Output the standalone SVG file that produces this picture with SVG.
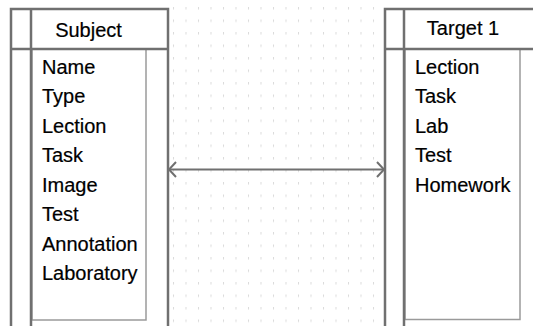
<svg xmlns="http://www.w3.org/2000/svg" width="533" height="326" viewBox="0 0 533 326">
<defs>
<style>
.outer{fill:#fff;stroke:#707070;stroke-width:2.5}
.sep{stroke:#707070;stroke-width:2.5;fill:none}
.list{fill:#fff;stroke:#9a9a9a;stroke-width:1.5}
.t{font-family:"Liberation Sans",Arial,sans-serif;font-size:20px;fill:#000;stroke:#000;stroke-width:0.2}
.hd{text-anchor:middle}
.conn{stroke:#707070;stroke-width:2;fill:none}
</style>
<pattern id="grid" patternUnits="userSpaceOnUse" x="173" y="7" width="12.5" height="12.5">
<rect x="0" y="0" width="1" height="2.5" fill="#dadada"/>
</pattern>
</defs>
<rect x="0" y="0" width="533" height="326" fill="#fff"/>
<rect x="170" y="0" width="212" height="326" fill="url(#grid)"/>
<g id="subject">
<rect class="outer" x="11" y="9" width="157" height="340"/>
<rect class="list" x="32" y="49" width="114" height="271"/>
<line class="sep" x1="31" y1="9" x2="31" y2="340"/>
<line class="sep" x1="11" y1="49" x2="168" y2="49"/>
<text class="t hd" x="88.5" y="37">Subject</text>
<text class="t" x="42" y="73.5">Name</text>
<text class="t" x="42" y="103">Type</text>
<text class="t" x="42" y="132.5">Lection</text>
<text class="t" x="42" y="162">Task</text>
<text class="t" x="42" y="191.5">Image</text>
<text class="t" x="42" y="221">Test</text>
<text class="t" x="42" y="250.5">Annotation</text>
<text class="t" x="42" y="280">Laboratory</text>
</g>
<g id="target1">
<rect class="outer" x="385" y="9" width="200" height="340"/>
<rect class="list" x="405" y="49" width="115" height="270.5"/>
<line class="sep" x1="404" y1="9" x2="404" y2="340"/>
<line class="sep" x1="385" y1="49" x2="540" y2="49"/>
<text class="t hd" x="463" y="35">Target 1</text>
<text class="t" x="415" y="73.5">Lection</text>
<text class="t" x="415" y="103">Task</text>
<text class="t" x="415" y="132.5">Lab</text>
<text class="t" x="415" y="162">Test</text>
<text class="t" x="415" y="191.5">Homework</text>
</g>
<g id="connectors">
<line class="conn" x1="169" y1="169.5" x2="384" y2="169.5"/>
<polyline class="conn" points="176,162 169,169.5 176,177"/>
<polyline class="conn" points="377,162 384,169.5 377,177"/>
</g>
</svg>
